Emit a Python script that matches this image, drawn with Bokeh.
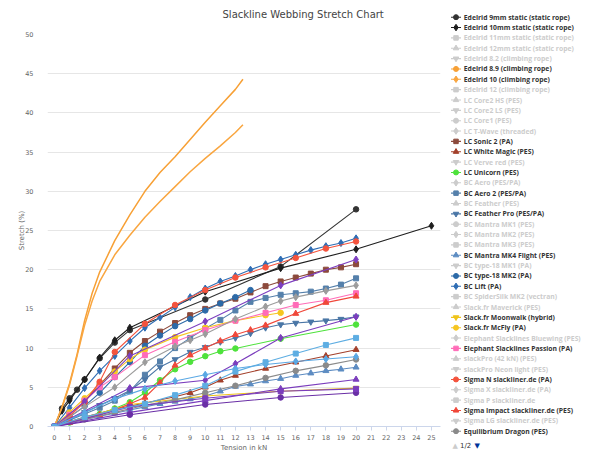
from bokeh.plotting import figure
from bokeh.layouts import row, column
from bokeh.models import Range1d, ColumnDataSource, FixedTicker
from bokeh.core.properties import value
from bokeh.embed import file_html
from bokeh.resources import INLINE

# ---------------- data (tension kN -> stretch %) ----------------
TITLE = "Slackline Webbing Stretch Chart"
X_TICKS = list(range(0, 26))
Y_TICKS = list(range(0, 51, 5))

edelrid9_x = [0, 0.5, 1, 1.5, 2, 3, 4, 5, 10, 15, 20]
edelrid9_y = [0, 2.3, 3.6, 4.7, 6.0, 8.7, 10.7, 12.3, 16.2, 20.4, 27.7]
edelrid10s_x = [0, 0.5, 1, 2, 3, 4, 5, 10, 15, 20, 25]
edelrid10s_y = [0, 2.0, 3.3, 6.0, 8.8, 11.0, 12.6, 17.2, 20.2, 22.6, 25.6]
rope_x = [0, 0.5, 1, 1.5, 2, 2.5, 3, 4, 5, 6, 7, 8, 9, 10, 11, 12, 12.5]
edelrid89_y = [0, 2.5, 5.5, 9.2, 13.5, 17.0, 19.7, 23.7, 27.0, 30.0, 32.4, 34.4, 36.6, 38.8, 40.9, 43.0, 44.3]
edelrid10c_y = [0, 2.4, 5.3, 9.0, 12.9, 16.0, 18.5, 21.9, 24.4, 26.7, 28.7, 30.6, 32.5, 34.2, 35.8, 37.5, 38.5]
k20_x = list(range(0, 21))
sonic2_y = [0, 1.5, 3.2, 5.3, 7.4, 9.4, 10.9, 12.1, 13.2, 14.2, 15.0, 15.7, 16.3, 17.1, 17.9, 18.5, 19.0, 19.5, 20.0, 20.3, 20.7]
whitemagic_x = [0, 2, 4, 6, 8, 9, 10, 11, 12, 14, 16, 18, 20]
whitemagic_y = [0, 1.2, 2.2, 3.0, 3.8, 4.3, 5.0, 5.9, 6.5, 7.4, 8.2, 9.0, 9.8]
unicorn_x = [0, 1, 2, 3, 4, 5, 6, 7, 8, 9, 10, 11, 12, 15, 20]
unicorn_y = [0, 0.5, 1.0, 1.6, 2.3, 3.1, 4.3, 5.9, 7.3, 8.25, 8.97, 9.6, 9.95, 11.2, 13.0]
aero2_y = [0, 0.8, 1.6, 2.4, 3.3, 4.5, 6.6, 8.3, 10.0, 11.3, 12.5, 13.6, 14.8, 15.9, 16.4, 16.8, 17.0, 17.2, 17.6, 18.1, 18.9]
featherpro_y = [0, 0.9, 1.8, 2.7, 3.6, 4.6, 6.0, 7.6, 8.55, 9.5, 10.1, 10.8, 11.3, 11.9, 12.6, 13.0, 13.2, 13.35, 13.5, 13.7, 14.0]
mk4_y = [0, 0.5, 0.9, 1.3, 1.7, 2.1, 2.5, 2.9, 3.2, 3.5, 3.9, 4.5, 5.1, 5.4, 5.8, 6.1, 6.5, 6.8, 7.1, 7.3, 7.55]
type18mk2_x = list(range(0, 14))
type18mk2_y = [0, 1.2, 2.6, 4.3, 6.3, 8.2, 10.3, 11.6, 12.8, 13.7, 14.8, 15.7, 16.5, 17.4]
lift_y = [0, 2.4, 4.9, 7.1, 9.0, 10.9, 12.6, 13.9, 15.2, 16.5, 17.6, 18.5, 19.2, 20.0, 20.7, 21.3, 21.9, 22.5, 23.0, 23.4, 24.0]
moonwalk_x = [0, 5, 10, 15, 20]
moonwalk_y = [0, 2.8, 3.9, 4.5, 4.9]
mcfly_x = [0, 1, 2, 3, 4, 5, 6, 8, 10, 12, 14, 15]
mcfly_y = [0, 1.8, 3.6, 5.3, 7.0, 8.6, 9.8, 11.4, 12.6, 13.5, 14.2, 14.5]
passion_x = [0, 1, 2, 3, 4, 6, 8, 10, 12, 14, 16, 18, 20]
passion_y = [0, 1.5, 3.3, 5.0, 6.3, 9.1, 10.8, 12.3, 13.5, 14.5, 15.5, 16.1, 17.0]
sigman_x = [0, 1, 2, 3, 4, 6, 8, 10, 12, 14, 16, 18, 20]
sigman_y = [0, 1.3, 3.1, 5.7, 9.5, 13.1, 15.5, 17.4, 19.0, 20.3, 21.5, 22.7, 23.6]
impact_x = [0, 1, 2, 3, 4, 5, 6, 7, 8, 9, 10, 11, 12, 13, 14, 16, 18, 20]
impact_y = [0, 0.5, 1.0, 1.5, 2.1, 2.9, 3.7, 5.6, 7.8, 9.1, 10.0, 10.9, 11.7, 12.3, 12.9, 14.4, 15.8, 16.6]
even20_x = [0, 2, 4, 6, 8, 10, 12, 14, 16, 18, 20]
dragon_y = [0, 0.9, 1.8, 2.7, 3.4, 4.3, 5.2, 6.2, 7.1, 7.8, 8.55]

# series listed on legend page 2 (drawn, not listed on page 1)
p2_purple_hi_x = [0, 2, 5, 10, 15, 20]
p2_purple_hi_y = [0, 3.2, 9.0, 13.4, 18.0, 21.3]
p2_grey_x = [0, 2, 4, 6, 8, 9, 10, 12, 14, 15, 16, 18, 20]
p2_grey_y = [0, 2.5, 5.0, 8.2, 10.2, 11.0, 11.8, 13.7, 15.3, 16.0, 16.5, 17.3, 18.0]
p2_purple_mid_x = [0, 5, 10, 12, 15, 20]
p2_purple_mid_y = [0, 4.9, 5.9, 8.0, 11.3, 14.0]
p2_lblue_sq_y = [0, 1.2, 2.1, 2.9, 4.0, 5.2, 7.0, 8.2, 9.3, 10.4, 11.3]
p2_lblue_di_y = [0, 1.8, 3.5, 4.8, 5.8, 6.6, 7.4, 7.9, 8.3, 8.6, 8.9]
p2_low_x = [0, 5, 10, 15, 20]
p2_purple_tri_y = [0, 1.8, 3.3, 4.8, 6.0]
p2_purple_sq_y = [0, 2.5, 3.6, 4.5, 4.8]
p2_purple_dk_y = [0, 1.5, 2.8, 3.7, 4.3]

LEGEND_NAMES = [
    "Edelrid 9mm static (static rope)", "Edelrid 10mm static (static rope)",
    "Edelrid 11mm static (static rope)", "Edelrid 12mm static (static rope)",
    "Edelrid 8.2 (climbing rope)", "Edelrid 8.9 (climbing rope)",
    "Edelrid 10 (climbing rope)", "Edelrid 12 (climbing rope)",
    "LC Core2 HS (PES)", "LC Core2 LS (PES)", "LC Core1 (PES)", "LC T-Wave (threaded)",
    "LC Sonic 2 (PA)", "LC White Magic (PES)", "LC Verve red (PES)", "LC Unicorn (PES)",
    "BC Aero (PES/PA)", "BC Aero 2 (PES/PA)", "BC Feather (PES)", "BC Feather Pro (PES/PA)",
    "BC Mantra MK1 (PES)", "BC Mantra MK2 (PES)", "BC Mantra MK3 (PES)",
    "BC Mantra MK4 Flight (PES)", "BC type-18 MK1 (PA)", "BC type-18 MK2 (PA)",
    "BC Lift (PA)", "BC SpiderSilk MK2 (vectran)", "Slack.fr Maverick (PES)",
    "Slack.fr Moonwalk (hybrid)", "Slack.fr McFly (PA)",
    "Elephant Slacklines Bluewing (PES)", "Elephant Slacklines Passion (PA)",
    "slackPro (42 kN) (PES)", "slackPro Neon light (PES)",
    "Sigma N slackliner.de (PA)", "Sigma X slackliner.de (PA)", "Sigma P slackliner.de",
    "Sigma Impact slackliner.de (PES)", "Sigma LG slackliner.de (PES)",
    "Equilibrium Dragon (PES)",
]
PAGER_TEXTS = ["\u25B2", "1/2", "\u25BC"]
MARKER_CYCLE = ["circle", "diamond", "square", "triangle", "inverted_triangle"]

# visible series on legend page 1: name -> (x, y, colour, show markers on chart)
ACTIVE = {
    "Edelrid 9mm static (static rope)": (edelrid9_x, edelrid9_y, "#333333", True),
    "Edelrid 10mm static (static rope)": (edelrid10s_x, edelrid10s_y, "#1e1e1e", True),
    "Edelrid 8.9 (climbing rope)": (rope_x, edelrid89_y, "#f7a035", False),
    "Edelrid 10 (climbing rope)": (rope_x, edelrid10c_y, "#f9a640", False),
    "LC Sonic 2 (PA)": (k20_x, sonic2_y, "#8c4a3c", True),
    "LC White Magic (PES)": (whitemagic_x, whitemagic_y, "#a3402b", True),
    "LC Unicorn (PES)": (unicorn_x, unicorn_y, "#4ee23c", True),
    "BC Aero 2 (PES/PA)": (k20_x, aero2_y, "#5580ab", True),
    "BC Feather Pro (PES/PA)": (k20_x, featherpro_y, "#4a76a6", True),
    "BC Mantra MK4 Flight (PES)": (k20_x, mk4_y, "#5d8cc2", True),
    "BC type-18 MK2 (PA)": (type18mk2_x, type18mk2_y, "#2c6aa8", True),
    "BC Lift (PA)": (k20_x, lift_y, "#2f6db4", True),
    "Slack.fr Moonwalk (hybrid)": (moonwalk_x, moonwalk_y, "#efc41a", True),
    "Slack.fr McFly (PA)": (mcfly_x, mcfly_y, "#f6c620", True),
    "Elephant Slacklines Passion (PA)": (passion_x, passion_y, "#ff6cb8", True),
    "Sigma N slackliner.de (PA)": (sigman_x, sigman_y, "#f4533d", True),
    "Sigma Impact slackliner.de (PES)": (impact_x, impact_y, "#f0483a", True),
    "Equilibrium Dragon (PES)": (even20_x, dragon_y, "#8a8a8a", True),
}

PAGE2 = [
    (p2_purple_hi_x, p2_purple_hi_y, "#7d3fc0", "diamond"),
    (p2_grey_x, p2_grey_y, "#9c9c9c", "diamond"),
    (p2_purple_mid_x, p2_purple_mid_y, "#7b3dbd", "diamond"),
    (even20_x, p2_lblue_di_y, "#5aa8e4", "diamond"),
    (p2_low_x, p2_purple_tri_y, "#7b3dbd", "triangle"),
    (p2_low_x, p2_purple_dk_y, "#6a2fa6", "circle"),
    (p2_low_x, p2_purple_sq_y, "#7b3dbd", "square"),
    (even20_x, p2_lblue_sq_y, "#5dade2", "square"),
]

SIZES = {"circle": 5.5, "diamond": 7, "square": 5, "triangle": 6, "inverted_triangle": 6}
FONT = "DejaVu Sans"
HIDDEN_GREY = "#cccccc"

W_MAIN, W_LEG, H, H_TITLE = 442, 142, 454, 20


def bare(width, height):
    f = figure(width=width, height=height, output_backend="svg", toolbar_location=None,
               x_range=Range1d(0, width), y_range=Range1d(0, height),
               min_border_left=0, min_border_right=0, min_border_top=0,
               min_border_bottom=0, x_axis_location=None, y_axis_location=None,
               background_fill_color="white", border_fill_color="white")
    f.outline_line_color = None
    f.grid.visible = False
    f.frame_align = False
    return f


# ---------------- title strip ----------------
tf = bare(W_MAIN, H_TITLE)
tsrc = ColumnDataSource(dict(x=[222], y=[H_TITLE - 14], t=[TITLE]))
tf.text("x", "y", text="t", source=tsrc, text_color="#444444",
        text_font=value(FONT), text_font_size=value("10px"), text_baseline="middle")

# ---------------- main chart ----------------
p = figure(width=W_MAIN, height=H - H_TITLE, output_backend="svg", toolbar_location=None,
           x_range=Range1d(-0.46, 25.6), y_range=Range1d(0, 50),
           min_border_left=47, min_border_right=2, min_border_top=14,
           min_border_bottom=26, background_fill_color="white",
           border_fill_color="white")
p.outline_line_color = None
p.frame_align = False
p.title.visible = False

p.xgrid.visible = False
p.ygrid.ticker = FixedTicker(ticks=Y_TICKS)
p.ygrid.grid_line_color = "#e6e6e6"

ya = p.yaxis[0]
ya.ticker = FixedTicker(ticks=Y_TICKS)
ya.axis_line_color = None
ya.major_tick_line_color = None
ya.minor_tick_line_color = None
ya.major_label_text_font = FONT
ya.major_label_text_font_size = "6.5px"
ya.major_label_text_color = "#666666"
ya.major_label_standoff = 8
ya.axis_label = "Stretch (%)"
ya.axis_label_text_font = FONT
ya.axis_label_text_font_size = "7px"
ya.axis_label_text_font_style = "normal"
ya.axis_label_text_color = "#666666"
ya.axis_label_standoff = -4

xa = p.xaxis[0]
xa.ticker = FixedTicker(ticks=X_TICKS)
xa.axis_line_color = "#ccd6eb"
xa.major_tick_line_color = "#ccd6eb"
xa.major_tick_out = 4
xa.major_tick_in = 0
xa.minor_tick_line_color = None
xa.major_label_text_font = FONT
xa.major_label_text_font_size = "6.5px"
xa.major_label_text_color = "#666666"
xa.major_label_standoff = 4
xa.axis_label = "Tension in kN"
xa.axis_label_text_font = FONT
xa.axis_label_text_font_size = "7px"
xa.axis_label_text_font_style = "normal"
xa.axis_label_text_color = "#666666"
xa.axis_label_standoff = 1

for name in LEGEND_NAMES:
    if name not in ACTIVE:
        continue
    xs, ys, color, show_markers = ACTIVE[name]
    marker = MARKER_CYCLE[LEGEND_NAMES.index(name) % 5]
    src = ColumnDataSource(dict(x=xs, y=ys))
    p.line("x", "y", source=src, line_color=color,
           line_width=1.5 if not show_markers else 1.1)
    if show_markers:
        p.scatter("x", "y", source=src, marker=marker, size=SIZES[marker],
                  fill_color=color, line_color=color)

for xs, ys, color, marker in PAGE2:
    src = ColumnDataSource(dict(x=xs, y=ys))
    p.line("x", "y", source=src, line_color=color, line_width=1.1)
    p.scatter("x", "y", source=src, marker=marker, size=SIZES[marker],
              fill_color=color, line_color=color)

# ---------------- legend panel (page 1 of 2), pixel coordinates ----------------
lg = bare(W_LEG, H)

ROW0, ROW_STEP = 16.7, 10.35
rows_y = [H - (ROW0 + ROW_STEP * i) for i in range(len(LEGEND_NAMES))]
row_col = [ACTIVE[n][2] if n in ACTIVE else HIDDEN_GREY for n in LEGEND_NAMES]
txt_col = ["#333333" if n in ACTIVE else HIDDEN_GREY for n in LEGEND_NAMES]
row_mk = [MARKER_CYCLE[i % 5] for i in range(len(LEGEND_NAMES))]
leg = ColumnDataSource(dict(
    y=rows_y, label=LEGEND_NAMES, col=row_col, tcol=txt_col, mk=row_mk,
    size=[SIZES[m] - 0.5 for m in row_mk],
    x0=[8.5] * len(rows_y), x1=[18.5] * len(rows_y),
    xm=[13.5] * len(rows_y), xt=[21.3] * len(rows_y)))
lg.segment("x0", "y", "x1", "y", source=leg, line_color="col", line_width=1.1)
lg.scatter("xm", "y", source=leg, marker="mk", size="size",
           fill_color="col", line_color="col")
lg.text("xt", "y", text="label", source=leg, text_color="tcol",
        text_font=value("Open Sans"), text_font_style="bold",
        text_font_size=value("6.8px"), text_baseline="middle")

pager = ColumnDataSource(dict(x=[10, 17.5, 32], y=[H - 445] * 3, t=PAGER_TEXTS,
                              c=["#cccccc", "#333333", "#003399"]))
lg.text("x", "y", text="t", source=pager, text_color="c", text_font=value(FONT),
        text_font_size=value("7px"), text_baseline="middle")

layout = row(column(tf, p, spacing=0), lg, spacing=0)
open("out.html", "w").write(file_html(layout, INLINE, title=TITLE))
